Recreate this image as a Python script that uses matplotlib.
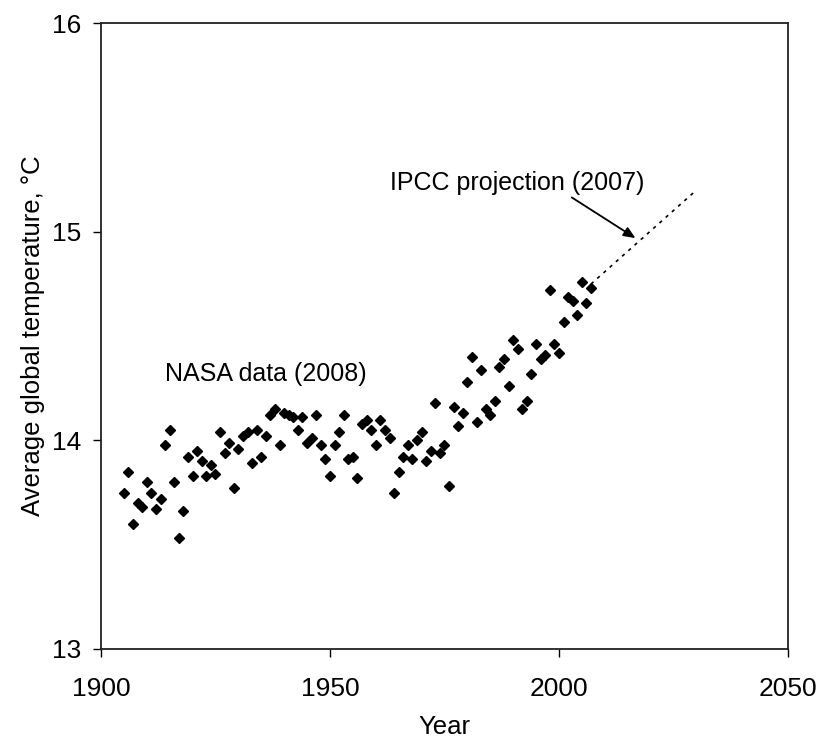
import numpy as np
import matplotlib
matplotlib.use("Agg")
import matplotlib.pyplot as plt

plt.rcParams["font.family"] = ["Liberation Sans", "DejaVu Sans"]

# Datos NASA (2008): temperatura media global anual, °C
years = np.arange(1905, 2008)
temps = [
    13.75, 13.85, 13.60, 13.70, 13.68, 13.80, 13.75, 13.67, 13.72, 13.98,  # 1905-1914
    14.05, 13.80, 13.53, 13.66, 13.92, 13.83, 13.95, 13.90, 13.83, 13.88,  # 1915-1924
    13.84, 14.04, 13.94, 13.99, 13.77, 13.96, 14.02, 14.04, 13.89, 14.05,  # 1925-1934
    13.92, 14.02, 14.12, 14.15, 13.98, 14.13, 14.12, 14.11, 14.05, 14.11,  # 1935-1944
    13.99, 14.01, 14.12, 13.98, 13.91, 13.83, 13.98, 14.04, 14.12, 13.91,  # 1945-1954
    13.92, 13.82, 14.08, 14.10, 14.05, 13.98, 14.10, 14.05, 14.01, 13.75,  # 1955-1964
    13.85, 13.92, 13.98, 13.91, 14.00, 14.04, 13.90, 13.95, 14.18, 13.94,  # 1965-1974
    13.98, 13.78, 14.16, 14.07, 14.13, 14.28, 14.40, 14.09, 14.34, 14.15,  # 1975-1984
    14.12, 14.19, 14.35, 14.39, 14.26, 14.48, 14.44, 14.15, 14.19, 14.32,  # 1985-1994
    14.46, 14.39, 14.41, 14.72, 14.46, 14.42, 14.57, 14.69, 14.67, 14.60,  # 1995-2004
    14.76, 14.66, 14.73,                                                   # 2005-2007
]

# Proyección IPCC (2007)
proj_years = [2007, 2030]
proj_temps = [14.75, 15.20]

fig = plt.figure(figsize=(8.19, 7.44), dpi=100)
ax = fig.add_axes([0.1233, 0.1277, 0.8388, 0.841])

ax.plot(years, temps, linestyle="none", marker="D", markersize=5.3,
        color="black", clip_on=False)
ax.plot(proj_years, proj_temps, linestyle=(0, (2, 3)), color="black", linewidth=1.2)

ax.text(1914, 14.283, "NASA data (2008)", fontsize=18, va="baseline", ha="left")
ax.text(1963, 15.20, "IPCC projection (2007)", fontsize=18, va="baseline", ha="left")
ax.annotate("", xy=(2016.7, 14.97), xytext=(2002.8, 15.165),
            arrowprops=dict(arrowstyle="-|>,head_length=0.7,head_width=0.3",
                            color="black", linewidth=1.3, shrinkA=0, shrinkB=0))

ax.set_xlim(1900, 2050)
ax.set_ylim(13, 16)
ax.set_xticks([1900, 1950, 2000, 2050])
ax.set_yticks([13, 14, 15, 16])
ax.tick_params(direction="out", length=5.5, width=1, labelsize=19)
ax.tick_params(axis="x", pad=14.5)
ax.tick_params(axis="y", pad=8.5)
ax.set_xlabel("Year", fontsize=18.5, labelpad=10)
ax.set_ylabel("Average global temperature, °C", fontsize=18.5)
ax.yaxis.set_label_coords(-0.082, 0.5)

for s in ax.spines.values():
    s.set_linewidth(1.3)
    s.set_color("#222222")

fig.savefig("out.png", dpi=100)
